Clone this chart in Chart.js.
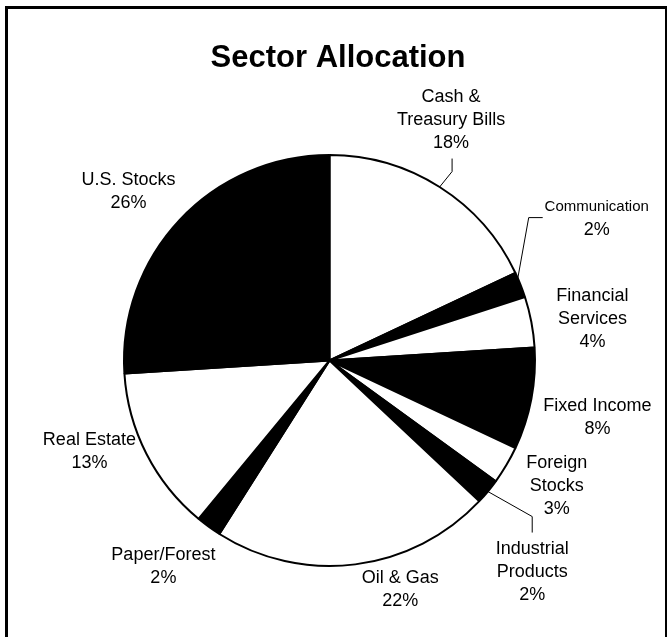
<!DOCTYPE html>
<html>
<head>
<meta charset="utf-8">
<script src="https://cdn.jsdelivr.net/npm/chart.js@4.4.1/dist/chart.umd.min.js"></script>
<style>
  html, body { margin: 0; padding: 0; background: #fff; overflow: hidden; }
  #frame {
    position: absolute; left: 5px; top: 6px; width: 662px; height: 700px;
    border-left: 3px solid #000; border-top: 3px solid #000; border-right: 2px solid #000;
    box-sizing: border-box;
  }
  #pie { position: absolute; left: 0; top: 0; }
</style>
</head>
<body>
<div id="frame"></div>
<canvas id="pie" width="670" height="637"></canvas>
<script>
// sectors, clockwise from 12 o'clock
const sectors = [
  ['Cash &', 'Treasury Bills'],
  ['Communication'],
  ['Financial', 'Services'],
  ['Fixed Income'],
  ['Foreign', 'Stocks'],
  ['Industrial', 'Products'],
  ['Oil & Gas'],
  ['Paper/Forest'],
  ['Real Estate'],
  ['U.S. Stocks']
];
const shares = [18, 2, 4, 8, 3, 2, 22, 2, 13, 26];
const fills = ['#fff', '#000', '#fff', '#000', '#fff', '#000', '#fff', '#000', '#fff', '#000'];

// label nudges from the default anchor (mid angle, just outside the pie)
const nudges = [[-18, -21], [25, -46], [7, 7], [12, 8], [3, -7], [2, 45], [38, -29], [-13, -5], [-8, -27], [-11, 9]];
// leader lines: start angle shift, elbow and end relative to the label centre
const leaders = {
  0: [0, [1, 52], [1, 39]],
  1: [-0.035, [-68, -1], [-54, -1]],
  5: [0, [0, -55], [0, -39]]
};

const outsideLabels = {
  id: 'outsideLabels',
  afterDraw(chart) {
    const ctx = chart.ctx;
    const arcs = chart.getDatasetMeta(0).data;
    ctx.save();
    ctx.fillStyle = '#000';
    ctx.textAlign = 'center';
    ctx.textBaseline = 'middle';
    ctx.font = 'bold 31px "Liberation Sans", Arial, sans-serif';
    ctx.fillText('Sector Allocation', 338, 58);

    arcs.forEach((arc, i) => {
      const mid = (arc.startAngle + arc.endAngle) / 2;
      const r = arc.outerRadius;
      const ax = arc.x + Math.cos(mid) * (r + 55) + nudges[i][0];
      const ay = arc.y + Math.sin(mid) * (r + 55) + nudges[i][1];
      const lines = sectors[i].concat([shares[i] + '%']);
      const lh = 23;
      lines.forEach((t, k) => {
        const small = i === 1 && k < lines.length - 1;
        ctx.font = (small ? 15 : 18) + 'px "Liberation Sans", Arial, sans-serif';
        ctx.fillText(t, ax, ay + (k - (lines.length - 1) / 2) * lh);
      });
      if (leaders[i]) {
        const a = mid + leaders[i][0];
        const ex = arc.x + Math.cos(a) * r;
        const ey = arc.y + Math.sin(a) * r;
        ctx.beginPath();
        ctx.lineWidth = 1;
        ctx.strokeStyle = '#000';
        ctx.moveTo(ex, ey);
        ctx.lineTo(ax + leaders[i][1][0], ay + leaders[i][1][1]);
        ctx.lineTo(ax + leaders[i][2][0], ay + leaders[i][2][1]);
        ctx.stroke();
      }
    });
    ctx.restore();
  }
};

new Chart(document.getElementById('pie').getContext('2d'), {
  type: 'pie',
  data: {
    labels: sectors.map(s => s.join(' ')),
    datasets: [{
      data: shares,
      backgroundColor: fills,
      borderColor: '#000',
      borderWidth: 2
    }]
  },
  options: {
    responsive: false,
    devicePixelRatio: 1,
    animation: false,
    layout: { padding: { left: 123, right: 134, top: 154, bottom: 70 } },
    plugins: { legend: { display: false }, tooltip: { enabled: false } }
  },
  plugins: [outsideLabels]
});
</script>
</body>
</html>
